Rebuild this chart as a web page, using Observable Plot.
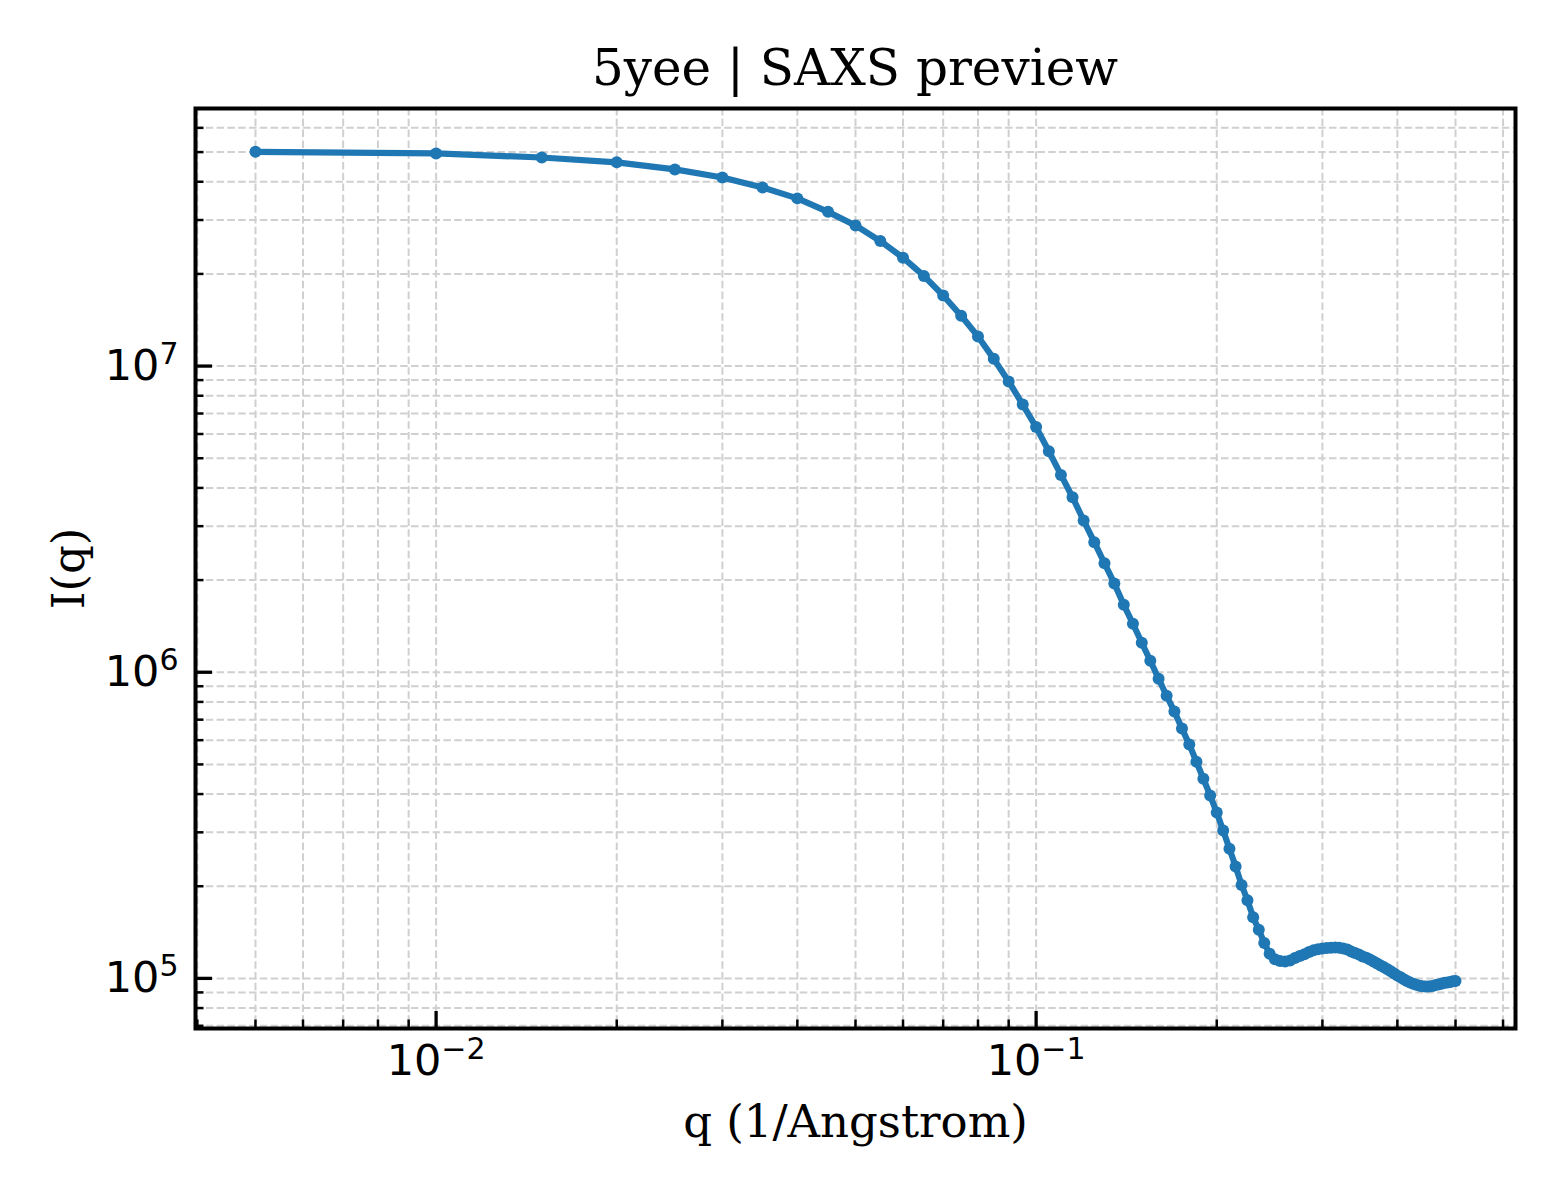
<!DOCTYPE html>
<html>
<head>
<meta charset="utf-8">
<script src="https://cdn.jsdelivr.net/npm/d3@7"></script>
<script src="https://cdn.jsdelivr.net/npm/@observablehq/plot@0.6"></script>
<style>
  body { margin: 0; background: #ffffff; }
  #wrap { position: relative; width: 1560px; height: 1200px; background: #fff; }
  #title { position: absolute; left: 195px; width: 1320px; top: 43px; text-align: center;
           font-family: "DejaVu Serif", serif; font-size: 50px; line-height: 50px; color: #000; }
  #chart svg { display: block; }
  g[aria-label$="tick label"] text { font-family: "DejaVu Sans", sans-serif; }
  g[aria-label$="axis label"] text { font-family: "DejaVu Serif", serif; }
</style>
</head>
<body>
<div id="wrap">
  <div id="chart"></div>
  <div id="title">5yee | SAXS preview</div>
</div>
<script>
// ---- data ----
const qValues = [
  0.005, 0.010, 0.015, 0.020, 0.025, 0.030, 0.035, 0.040, 0.045, 0.050,
  0.055, 0.060, 0.065, 0.070, 0.075, 0.080, 0.085, 0.090, 0.095, 0.100,
  0.105, 0.110, 0.115, 0.120, 0.125, 0.130, 0.135, 0.140, 0.145, 0.150,
  0.155, 0.160, 0.165, 0.170, 0.175, 0.180, 0.185, 0.190, 0.195, 0.200,
  0.205, 0.210, 0.215, 0.220, 0.225, 0.230, 0.235, 0.240, 0.245, 0.250,
  0.255, 0.260, 0.265, 0.270, 0.275, 0.280, 0.285, 0.290, 0.295, 0.300,
  0.305, 0.310, 0.315, 0.320, 0.325, 0.330, 0.335, 0.340, 0.345, 0.350,
  0.355, 0.360, 0.365, 0.370, 0.375, 0.380, 0.385, 0.390, 0.395, 0.400,
  0.405, 0.410, 0.415, 0.420, 0.425, 0.430, 0.435, 0.440, 0.445, 0.450,
  0.455, 0.460, 0.465, 0.470, 0.475, 0.480, 0.485, 0.490, 0.495, 0.500
];
const intensity = [
  5.01e7, 4.95e7, 4.80e7, 4.63e7, 4.39e7, 4.13e7, 3.83e7, 3.53e7, 3.19e7, 2.88e7,
  2.56e7, 2.26e7, 1.97e7, 1.70e7, 1.46e7, 1.25e7, 1.056e7, 8.91e6, 7.49e6, 6.32e6,
  5.27e6, 4.41e6, 3.73e6, 3.13e6, 2.66e6, 2.27e6, 1.95e6, 1.66e6, 1.44e6, 1.248e6,
  1.090e6, 9.52e5, 8.38e5, 7.44e5, 6.55e5, 5.81e5, 5.10e5, 4.49e5, 3.96e5, 3.48e5,
  3.04e5, 2.65e5, 2.32e5, 2.02e5, 1.80e5, 1.584e5, 1.441e5, 1.306e5, 1.203e5, 1.155e5,
  1.139e5, 1.135e5, 1.143e5, 1.165e5, 1.183e5, 1.200e5, 1.219e5, 1.235e5, 1.244e5, 1.251e5,
  1.256e5, 1.259e5, 1.261e5, 1.258e5, 1.251e5, 1.242e5, 1.225e5, 1.211e5, 1.196e5, 1.180e5,
  1.169e5, 1.152e5, 1.135e5, 1.118e5, 1.101e5, 1.087e5, 1.071e5, 1.055e5, 1.038e5, 1.021e5,
  1.008e5, 0.994e5, 0.981e5, 0.969e5, 0.960e5, 0.953e5, 0.947e5, 0.943e5, 0.940e5, 0.940e5,
  0.943e5, 0.947e5, 0.953e5, 0.957e5, 0.962e5, 0.967e5, 0.970e5, 0.974e5, 0.978e5, 0.981e5
];
const xMajorTicks = [0.01, 0.1];
const xMinorTicks = [0.004, 0.005, 0.006, 0.007, 0.008, 0.009,
                     0.02, 0.03, 0.04, 0.05, 0.06, 0.07, 0.08, 0.09,
                     0.2, 0.3, 0.4, 0.5, 0.6];
const yMajorTicks = [1e5, 1e6, 1e7];
const yMinorTicks = [7e4, 8e4, 9e4,
                     2e5, 3e5, 4e5, 5e5, 6e5, 7e5, 8e5, 9e5,
                     2e6, 3e6, 4e6, 5e6, 6e6, 7e6, 8e6, 9e6,
                     2e7, 3e7, 4e7, 5e7, 6e7];
const xDomain = [0.003972, 0.6294];
const yDomain = [6.86e4, 6.94e7];
const xLabel = "q (1/Angstrom)";
const yLabel = "I(q)";

const data = qValues.map((q, i) => ({q, I: intensity[i]}));

// ---- layout ----
const W = 1560, H = 1200;
const mL = 195, mR = 45, mT = 108, mB = 172;
const innerW = W - mL - mR, innerH = H - mT - mB;
const majLen = 17, minLen = 8.5;
const blue = "#1f77b4";
const gridStyle = {stroke: "#d0d0d0", strokeOpacity: 1, strokeWidth: 2, strokeDasharray: "7.5,3.3"};
const supFmt = d => "10^" + String(Math.round(Math.log10(d))).replace("-", "\u2212");

const chart = Plot.plot({
  width: W, height: H,
  marginLeft: mL, marginRight: mR, marginTop: mT, marginBottom: mB,
  style: {background: "#fff", color: "#000", fontSize: "42px", fontFamily: "DejaVu Serif"},
  x: {type: "log", domain: xDomain},
  y: {type: "log", domain: yDomain},
  marks: [
    Plot.gridX(xMinorTicks.concat(xMajorTicks), gridStyle),
    Plot.gridY(yMinorTicks.concat(yMajorTicks), gridStyle),
    Plot.line(data, {x: "q", y: "I", stroke: blue, strokeWidth: 6.2, strokeLinejoin: "round"}),
    Plot.dot(data, {x: "q", y: "I", r: 6, fill: blue, stroke: "none"}),
    Plot.frame({stroke: "#000", strokeWidth: 4}),
    Plot.tickX(xMajorTicks, {x: d => d, insetTop: innerH - majLen, stroke: "#000", strokeWidth: 3.3}),
    Plot.tickX(xMinorTicks, {x: d => d, insetTop: innerH - minLen, stroke: "#000", strokeWidth: 2.5}),
    Plot.tickY(yMajorTicks, {y: d => d, insetRight: innerW - majLen, stroke: "#000", strokeWidth: 3.3}),
    Plot.tickY(yMinorTicks, {y: d => d, insetRight: innerW - minLen, stroke: "#000", strokeWidth: 2.5}),
    Plot.axisX({ticks: xMajorTicks, tickSize: 0, tickPadding: 16, tickFormat: supFmt,
                fontSize: 43, label: xLabel, labelAnchor: "center", labelArrow: "none", labelOffset: 108}),
    Plot.axisY({ticks: yMajorTicks, tickSize: 0, tickPadding: 17, tickFormat: supFmt,
                fontSize: 43, label: yLabel, labelAnchor: "center", labelArrow: "none", labelOffset: 143})
  ]
});
document.getElementById("chart").appendChild(chart);

// render exponents as raised, smaller tspans (matplotlib mathtext look)
const NS = "http://www.w3.org/2000/svg";
chart.querySelectorAll('g[aria-label$="tick label"] text').forEach(t => {
  const s = t.textContent;
  if (!s.includes("^")) return;
  const [base, exp] = s.split("^");
  t.textContent = "";
  const t1 = document.createElementNS(NS, "tspan");
  t1.textContent = base;
  const t2 = document.createElementNS(NS, "tspan");
  t2.textContent = exp;
  t2.setAttribute("font-size", "30px");
  t2.setAttribute("dy", "-16");
  t.appendChild(t1);
  t.appendChild(t2);
});
chart.querySelectorAll('g[aria-label$="axis label"] text').forEach(t => {
  t.setAttribute("font-size", "45px");
});
</script>
</body>
</html>
